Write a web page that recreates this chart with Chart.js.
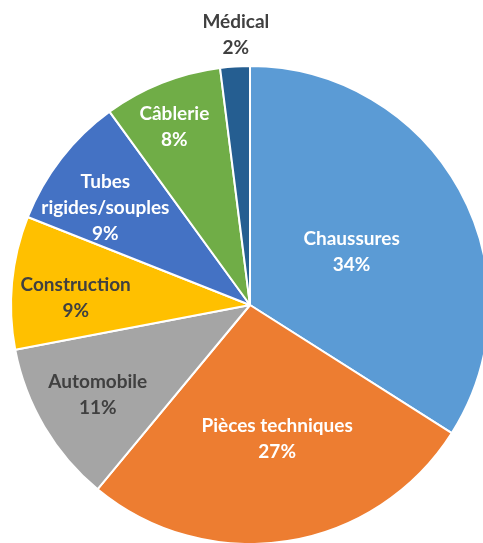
<!DOCTYPE html>
<html>
<head>
<meta charset="utf-8">
<script src="https://cdn.jsdelivr.net/npm/chart.js@4/dist/chart.umd.min.js"></script>
<style>
  html, body { margin: 0; padding: 0; background: #ffffff; }
  #wrap { width: 483px; height: 543px; }
</style>
</head>
<body>
<div id="wrap"><canvas id="c" width="483" height="543"></canvas></div>
<script>
const categories = ["Chaussures", "Pièces techniques", "Automobile", "Construction", "Tubes rigides/souples", "Câblerie", "Médical"];
const labelLines = [["Chaussures"], ["Pièces techniques"], ["Automobile"], ["Construction"], ["Tubes", "rigides/souples"], ["Câblerie"], ["Médical"]];
const shares = [34, 27, 11, 9, 9, 8, 2];

const sliceColors = ["#5B9BD5", "#ED7D31", "#A5A5A5", "#FFC000", "#4472C4", "#70AD47", "#255E91"];
const textColors = ["#ffffff", "#ffffff", "#404040", "#404040", "#ffffff", "#ffffff", "#404040"];
const labelRadiusFrac = [0.48, 0.57, 0.74, 0.73, 0.73, 0.81, 1.13];
const labelAngleNudgeDeg = [1.1, -2.5, 0, -3.1, -3.8, -1.4, 0.6];

const labelPlugin = {
  id: "sliceLabels",
  afterDatasetsDraw(chart) {
    const ctx = chart.ctx;
    const meta = chart.getDatasetMeta(0);
    ctx.save();
    ctx.font = "bold 19px Lato, 'Open Sans', sans-serif";
    ctx.textAlign = "center";
    ctx.textBaseline = "middle";
    const lh = 26;
    meta.data.forEach((arc, i) => {
      const p = arc.getProps(["x", "y", "startAngle", "endAngle", "outerRadius"], true);
      const mid = (p.startAngle + p.endAngle) / 2 + labelAngleNudgeDeg[i] * Math.PI / 180;
      const r = p.outerRadius * labelRadiusFrac[i];
      const cx = p.x + Math.cos(mid) * r;
      const cy = p.y + Math.sin(mid) * r;
      const lines = labelLines[i].concat([shares[i] + "%"]);
      const top = cy - (lines.length - 1) * lh / 2;
      ctx.fillStyle = textColors[i];
      lines.forEach((t, k) => ctx.fillText(t, cx, top + k * lh));
    });
    ctx.restore();
  }
};

new Chart(document.getElementById("c"), {
  type: "pie",
  data: {
    labels: categories,
    datasets: [{
      data: shares,
      backgroundColor: sliceColors,
      borderColor: "#ffffff",
      borderWidth: 2
    }]
  },
  options: {
    responsive: false,
    animation: false,
    radius: 239,
    layout: { padding: { left: 17, right: 0, top: 67, bottom: 0 } },
    plugins: {
      legend: { display: false },
      tooltip: { enabled: false }
    }
  },
  plugins: [labelPlugin]
});
</script>
</body>
</html>
